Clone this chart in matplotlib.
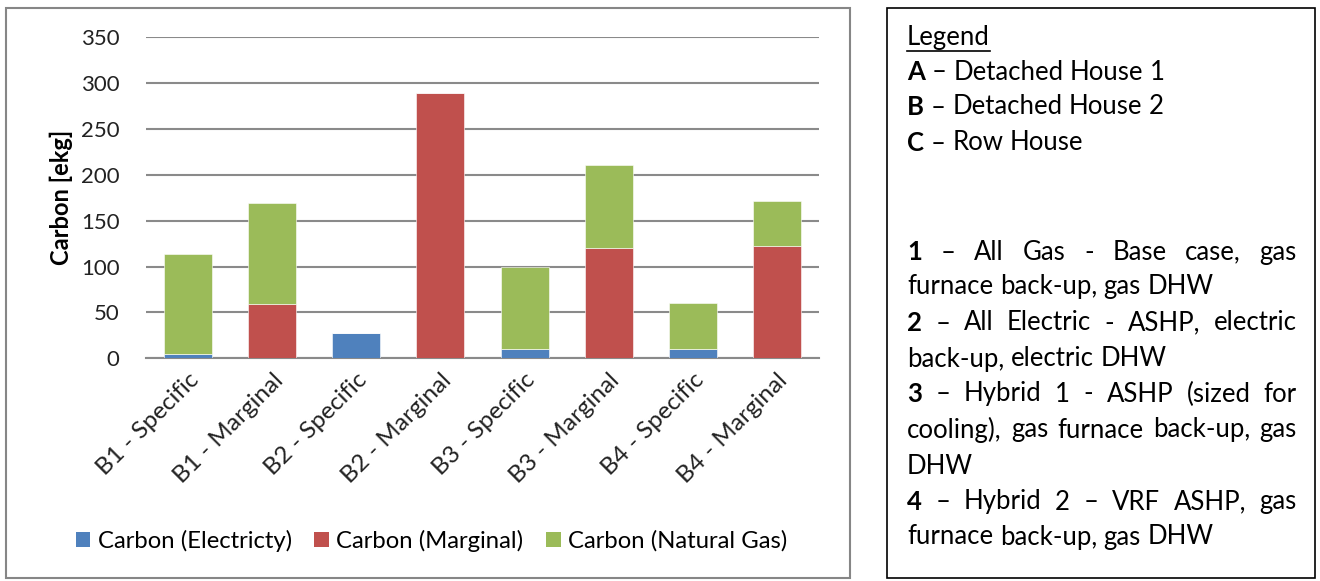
import matplotlib
matplotlib.use("Agg")
import numpy as np
import matplotlib.pyplot as plt
from matplotlib.patches import Rectangle, Patch
from matplotlib.lines import Line2D

plt.rcParams['font.family'] = ['Lato', 'DejaVu Sans']

categories = ["B1 - Specific", "B1 - Marginal", "B2 - Specific", "B2 - Marginal",
              "B3 - Specific", "B3 - Marginal", "B4 - Specific", "B4 - Marginal"]
electricity = [5, 0, 28, 0, 10, 0, 10.5, 0]
marginal = [0, 59, 0, 289, 0, 120, 0, 122]
natural_gas = [109, 110, 0, 0, 90, 91, 50, 50]
series_names = ["Carbon (Electricty)", "Carbon (Marginal)", "Carbon (Natural Gas)"]
colors = ["#4F81BD", "#C0504D", "#9BBB59"]
yticks = [0, 50, 100, 150, 200, 250, 300, 350]

W, H = 1320, 581
fig = plt.figure(figsize=(W / 100, H / 100), dpi=100)
fig.patch.set_facecolor("white")

# panel frames
fig.patches.append(Rectangle((6 / W, 1 - 578 / H), 844 / W, 570 / H, transform=fig.transFigure,
                             fill=False, edgecolor="#868686", linewidth=1.5))
fig.patches.append(Rectangle((887 / W, 1 - 578 / H), 428 / W, 570 / H, transform=fig.transFigure,
                             fill=False, edgecolor="black", linewidth=1.2))

ax = fig.add_axes([146 / W, 1 - 358.3 / H, (819 - 146) / W, (358.3 - 37.3) / H])
x = np.arange(len(categories))
bw = 0.57
bottom = np.zeros(len(categories))
for vals, c in zip([electricity, marginal, natural_gas], colors):
    ax.bar(x, vals, bw, bottom=bottom, color=c, edgecolor="white", linewidth=0.4, zorder=3)
    bottom += np.array(vals)

ax.set_xlim(-0.5, len(categories) - 0.5)
ax.set_ylim(0, 350)
ax.set_yticks(yticks)
ax.set_yticklabels([str(v) for v in yticks], fontsize=16, color="#222222")
ax.yaxis.grid(True, color="#8a8a8a", linewidth=1.5, zorder=0)
ax.set_axisbelow(True)
for s in ["top", "right", "left"]:
    ax.spines[s].set_visible(False)
ax.spines["bottom"].set_color("#8a8a8a")
ax.spines["bottom"].set_linewidth(1.5)
ax.tick_params(axis="y", length=0, pad=19)
ax.tick_params(axis="x", length=0, pad=8)
ax.set_xticks(x)
ax.set_xticklabels(categories, rotation=45, ha="right", rotation_mode="anchor",
                   fontsize=17.5, color="#222222")
ax.set_ylabel("Carbon [ekg]", fontsize=17, fontweight="bold")
ax.yaxis.set_label_coords(-(146 - 73) / 673, 0.5)

handles = [Patch(facecolor=c, edgecolor="none") for c in colors]
fig.legend(handles, series_names, loc="center", bbox_to_anchor=(431.5 / W, 1 - 541 / H), ncol=3,
           frameon=False, fontsize=17.2, handlelength=0.62, handleheight=0.62,
           handletextpad=0.3, columnspacing=0.95)

# text legend on the right
renderer = fig.canvas.get_renderer()
FS = 18.5
LEFT, RIGHT = 907, 1297


def text_width(s, weight="normal"):
    t = fig.text(0, 0, s, fontsize=FS, fontweight=weight)
    w = t.get_window_extent(renderer).width
    t.remove()
    return w


def put(px, py, s, weight="normal"):
    fig.text(px / W, 1 - py / H, s, fontsize=FS, fontweight=weight,
             ha="left", va="center", color="black")


def draw_line(y, first, rest, justify=False):
    words = [(first, "bold")] if first else []
    words += [(w, "normal") for w in rest.split()]
    widths = [text_width(w, wt) for w, wt in words]
    if justify and len(words) > 1:
        gap = (RIGHT - LEFT - sum(widths)) / (len(words) - 1)
    else:
        gap = text_width("a b") - text_width("ab")
    px = LEFT
    for (w, wt), wd in zip(words, widths):
        put(px, y, w, wt)
        px += wd + gap


put(LEFT, 38, "Legend")
lw = text_width("Legend")
fig.lines.append(Line2D([LEFT / W, (LEFT + lw) / W], [1 - 51 / H, 1 - 51 / H],
                        transform=fig.transFigure, color="black", linewidth=1.2))

draw_line(72, "A", "– Detached House 1")
draw_line(107, "B", "– Detached House 2")
draw_line(143, "C", "– Row House")
draw_line(252, "1", "– All Gas - Base case, gas", justify=True)
draw_line(287, None, "furnace back-up, gas DHW")
draw_line(323, "2", "– All Electric - ASHP, electric", justify=True)
draw_line(359, None, "back-up, electric DHW")
draw_line(394, "3", "– Hybrid 1 - ASHP (sized for", justify=True)
draw_line(430, None, "cooling), gas furnace back-up, gas", justify=True)
draw_line(466, None, "DHW")
draw_line(502, "4", "– Hybrid 2 – VRF ASHP, gas", justify=True)
draw_line(537, None, "furnace back-up, gas DHW")

fig.savefig("out.png", dpi=100)
